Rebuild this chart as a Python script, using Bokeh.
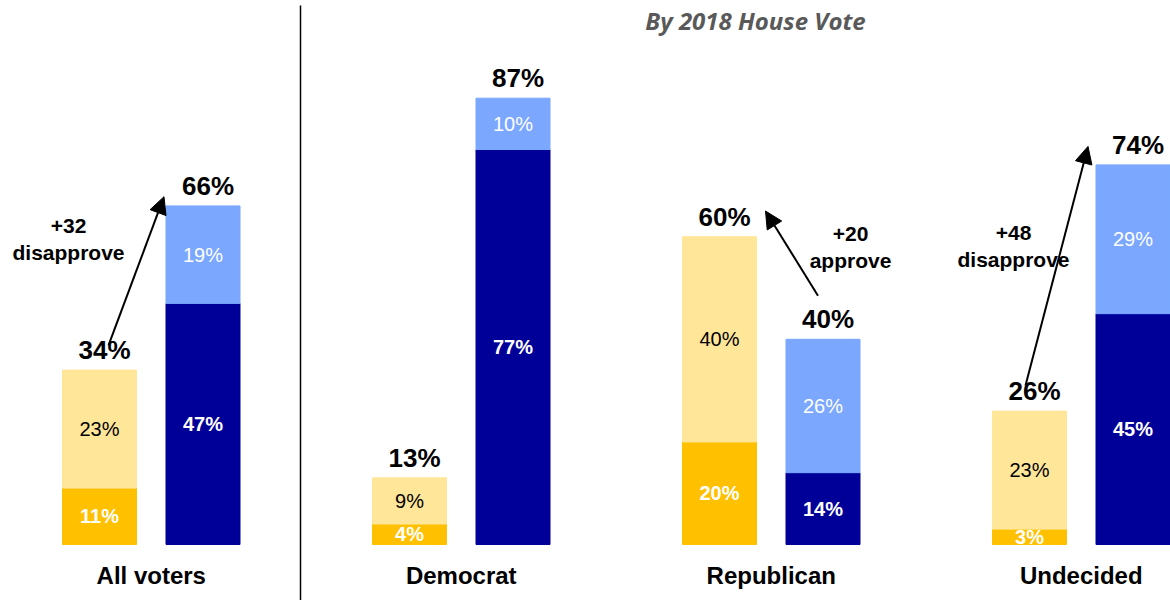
from bokeh.plotting import figure
from bokeh.models import ColumnDataSource, Arrow, NormalHead, Range1d
from bokeh.core.properties import value
from bokeh.embed import file_html
from bokeh.resources import INLINE

# ---- data ----
groups = ["All voters", "Democrat", "Republican", "Undecided"]
strong_approve = [11, 4, 20, 3]
somewhat_approve = [23, 9, 40, 23]
strong_disapprove = [47, 77, 14, 45]
somewhat_disapprove = [19, 10, 26, 29]
total_approve = [34, 13, 60, 26]
total_disapprove = [66, 87, 40, 74]
title_text = "By 2018 House Vote"
gap_groups = [0, 2, 3]
gap_values = ["+32", "+20", "+48"]
gap_words = ["disapprove", "approve", "disapprove"]

# ---- layout constants ----
W, H = 1170, 600
PX_PER_X = 310.0
X0_PX = 150.75
PX_PER_Y = 5.13
BASE_PX = 544.0
bar_w = 74 / PX_PER_X
off = 51.75 / PX_PER_X
ymin = -(H - BASE_PX) / PX_PER_Y
ymax = BASE_PX / PX_PER_Y
xmin = -X0_PX / PX_PER_X
xmax = (W - X0_PX) / PX_PER_X

FONT = value("Liberation Sans")
C_SA = "#FFC000"
C_WA = "#FFE699"
C_SD = "#000099"
C_WD = "#7BA7FF"

p = figure(width=W, height=H, output_backend="svg", toolbar_location=None,
           x_range=Range1d(xmin, xmax), y_range=Range1d(ymin, ymax),
           min_border=0, outline_line_color=None)
p.axis.visible = False
p.grid.visible = False
p.background_fill_color = "white"

idx = list(range(len(groups)))
xa = [i - off for i in idx]
xd = [i + off for i in idx]

src = ColumnDataSource(dict(
    xa=xa, xd=xd, g=groups, xc=idx,
    sa=strong_approve, wa_top=[a + b for a, b in zip(strong_approve, somewhat_approve)],
    sd=strong_disapprove, wd_top=[a + b for a, b in zip(strong_disapprove, somewhat_disapprove)],
    sa_mid=[v / 2 for v in strong_approve],
    wa_mid=[a + b / 2 for a, b in zip(strong_approve, somewhat_approve)],
    sd_mid=[v / 2 for v in strong_disapprove],
    wd_mid=[a + b / 2 for a, b in zip(strong_disapprove, somewhat_disapprove)],
    sa_lbl=[f"{v}%" for v in strong_approve],
    wa_lbl=[f"{v}%" for v in somewhat_approve],
    sd_lbl=[f"{v}%" for v in strong_disapprove],
    wd_lbl=[f"{v}%" for v in somewhat_disapprove],
    ta=total_approve, td=total_disapprove,
    ta_lbl=[f"{v}%" for v in total_approve],
    td_lbl=[f"{v}%" for v in total_disapprove],
))

p.vbar(x="xa", width=bar_w, bottom=0, top="sa", color=C_SA, source=src)
p.vbar(x="xa", width=bar_w, bottom="sa", top="wa_top", color=C_WA, source=src)
p.vbar(x="xd", width=bar_w, bottom=0, top="sd", color=C_SD, source=src)
p.vbar(x="xd", width=bar_w, bottom="sd", top="wd_top", color=C_WD, source=src)

common = dict(source=src, text_align="center", text_baseline="middle", text_font=FONT,
              text_font_size="20px")
p.text(x="xa", y="sa_mid", text="sa_lbl", text_color="white", text_font_style="bold", **common)
p.text(x="xa", y="wa_mid", text="wa_lbl", text_color="black", **common)
p.text(x="xd", y="sd_mid", text="sd_lbl", text_color="white", text_font_style="bold", **common)
p.text(x="xd", y="wd_mid", text="wd_lbl", text_color="white", **common)

tot = dict(source=src, text_align="center", text_baseline="bottom", text_font=FONT,
           text_font_size="26px", text_font_style="bold", text_color="black", y_offset=-5)
p.text(x="xa", y="ta", text="ta_lbl", x_offset=5, **tot)
p.text(x="xd", y="td", text="td_lbl", x_offset=5, **tot)

# category labels
p.text(x="xc", y=-6.0, text="g", source=src, text_align="center", text_baseline="middle",
       text_font=FONT, text_font_size="24px", text_font_style="bold", text_color="black")

# divider
div_x = (300 - X0_PX) / PX_PER_X
p.segment(x0=[div_x], y0=[ymin], x1=[div_x], y1=[(BASE_PX - 5) / PX_PER_Y],
          line_color="black", line_width=1.5)

# title
p.text(x=[(755 - X0_PX) / PX_PER_X], y=[(BASE_PX - 20) / PX_PER_Y], text=[title_text],
       text_align="center", text_baseline="middle", text_font=value("Open Sans"),
       text_font_size="24px", text_font_style="bold italic", text_color="#595959")

# arrows: start/end relative to bars
arrows = [
    (0 - off + 9 / PX_PER_X, total_approve[0] + 4.8, 0 + off - bar_w / 2 - 2 / PX_PER_X, total_disapprove[0] + 1.8),
    (2 + off - 5 / PX_PER_X, total_disapprove[2] + 8.5, 2 - off + bar_w / 2 + 9 / PX_PER_X, total_approve[2] + 5.0),
    (3 - off - 4 / PX_PER_X, total_approve[3] + 5.0, 3 + off - bar_w / 2 - 8 / PX_PER_X, total_disapprove[3] + 3.6),
]
for xs, ys, xe, ye in arrows:
    p.add_layout(Arrow(end=NormalHead(size=17, fill_color="black", line_color="black"),
                       x_start=xs, y_start=ys, x_end=xe, y_end=ye,
                       line_color="black", line_width=2))

label_pos = [(68, 225), (850, 233), (1013, 232)]
for (px, py), v, w in zip(label_pos, gap_values, gap_words):
    xx = (px - X0_PX) / PX_PER_X
    p.text(x=[xx, xx], y=[(BASE_PX - py) / PX_PER_Y, (BASE_PX - py - 27) / PX_PER_Y],
           text=[v, w], text_align="center", text_baseline="middle", text_font=FONT,
           text_font_size="21px", text_font_style="bold", text_color="black")

open("out.html", "w").write(file_html(p, INLINE))
